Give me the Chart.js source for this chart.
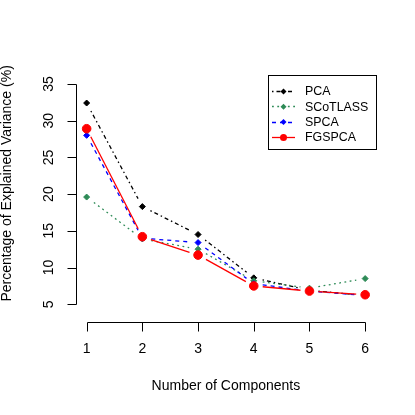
<!DOCTYPE html>
<html>
<head>
<meta charset="utf-8">
<script src="https://cdn.jsdelivr.net/npm/chart.js@4"></script>
<style>
  html, body { margin: 0; padding: 0; background: #fff; }
  canvas { display: block; }
</style>
</head>
<body>
<canvas id="chart" width="415" height="415"></canvas>
<script>
const components = [1, 2, 3, 4, 5, 6];
const seriesNames = ["PCA", "SCoTLASS", "SPCA", "FGSPCA"];
const pca = [32.4, 18.3, 14.5, 8.6, 6.9, 6.2];
const scotlass = [19.6, 13.9, 12.5, 8.2, 7.2, 8.5];
const spca = [28.0, 14.0, 13.4, 7.8, 6.8, 6.2];
const fgspca = [28.9, 14.2, 11.7, 7.5, 6.8, 6.3];
const yTicks = [5, 10, 15, 20, 25, 30, 35];
const xTicks = [1, 2, 3, 4, 5, 6];

const FONT = '"Liberation Sans", Arial, Helvetica, sans-serif';
const LWD = 1.3;

function pts(vals) {
    return components.map((c, i) => ({ x: c, y: vals[i] }));
}

// R style: lines with a gap around each point (type = "b")
const gapLines = {
    id: "gapLines",
    beforeDatasetsDraw(chart) {
        const ctx = chart.ctx;
        chart.data.datasets.forEach((ds, i) => {
            const meta = chart.getDatasetMeta(i);
            const gap = 9;
            ctx.save();
            ctx.strokeStyle = ds.borderColor;
            ctx.lineWidth = LWD;
            ctx.setLineDash(ds.lty);
            for (let j = 0; j < meta.data.length - 1; j++) {
                const a = meta.data[j], b = meta.data[j + 1];
                const dx = b.x - a.x, dy = b.y - a.y;
                const len = Math.sqrt(dx * dx + dy * dy);
                if (len <= gap * 2) continue;
                const ux = dx / len, uy = dy / len;
                ctx.beginPath();
                ctx.moveTo(a.x + ux * gap, a.y + uy * gap);
                ctx.lineTo(b.x - ux * gap, b.y - uy * gap);
                ctx.stroke();
            }
            ctx.restore();
        });
    }
};

const rAxes = {
    id: "rAxes",
    afterDraw(chart) {
        const ctx = chart.ctx;
        const xs = chart.scales.x, ys = chart.scales.y;
        const area = chart.chartArea;
        ctx.save();
        ctx.strokeStyle = "#000";
        ctx.fillStyle = "#000";
        ctx.lineWidth = 1;
        ctx.font = "14px " + FONT;

        // y axis
        const lx = Math.round(area.left) + 0.5;
        ctx.beginPath();
        ctx.moveTo(lx, Math.round(ys.getPixelForValue(yTicks[0])) + 0.5);
        ctx.lineTo(lx, Math.round(ys.getPixelForValue(yTicks[yTicks.length - 1])) + 0.5);
        yTicks.forEach(t => {
            const py = Math.round(ys.getPixelForValue(t)) + 0.5;
            ctx.moveTo(lx, py);
            ctx.lineTo(lx - 9, py);
        });
        ctx.stroke();
        yTicks.forEach(t => {
            const py = ys.getPixelForValue(t);
            ctx.save();
            ctx.translate(53, py);
            ctx.rotate(-Math.PI / 2);
            ctx.textAlign = "center";
            ctx.textBaseline = "alphabetic";
            ctx.fillText(String(t), 0, 0);
            ctx.restore();
        });

        // x axis
        const by = Math.round(area.bottom) + 0.5;
        ctx.beginPath();
        ctx.moveTo(Math.round(xs.getPixelForValue(xTicks[0])) + 0.5, by);
        ctx.lineTo(Math.round(xs.getPixelForValue(xTicks[xTicks.length - 1])) + 0.5, by);
        xTicks.forEach(t => {
            const px = Math.round(xs.getPixelForValue(t)) + 0.5;
            ctx.moveTo(px, by);
            ctx.lineTo(px, by + 9);
        });
        ctx.stroke();
        ctx.textAlign = "center";
        ctx.textBaseline = "middle";
        xTicks.forEach(t => {
            ctx.fillText(String(t), xs.getPixelForValue(t), 349);
        });

        // axis titles
        ctx.fillText("Number of Components", (area.left + area.right) / 2, 386);
        ctx.save();
        ctx.translate(11, (area.top + area.bottom) / 2);
        ctx.rotate(-Math.PI / 2);
        ctx.textBaseline = "alphabetic";
        ctx.fillText("Percentage of Explained Variance (%)", 0, 0);
        ctx.restore();

        // legend box
        ctx.strokeRect(268.5, 75.5, 108, 74);
        ctx.font = "12.4px " + FONT;
        ctx.textAlign = "left";
        ctx.textBaseline = "middle";
        chart.data.datasets.forEach((ds, i) => {
            const cy = 91 + i * 15.3;
            ctx.save();
            ctx.strokeStyle = ds.borderColor;
            ctx.lineWidth = LWD;
            ctx.setLineDash(ds.lty);
            ctx.beginPath();
            ctx.moveTo(272, Math.round(cy) + 0.5);
            ctx.lineTo(295, Math.round(cy) + 0.5);
            ctx.stroke();
            ctx.restore();
            ctx.save();
            ctx.fillStyle = ds.borderColor;
            ctx.beginPath();
            const r = ds.pointStyle === "circle" ? 3.5 : 3;
            if (ds.pointStyle === "circle") {
                ctx.arc(283.5, cy + 0.5, r, 0, Math.PI * 2);
            } else {
                ctx.moveTo(283.5 - r, cy + 0.5);
                ctx.lineTo(283.5, cy + 0.5 - r);
                ctx.lineTo(283.5 + r, cy + 0.5);
                ctx.lineTo(283.5, cy + 0.5 + r);
                ctx.closePath();
            }
            ctx.fill();
            ctx.restore();
            ctx.fillStyle = "#000";
            ctx.fillText(ds.label, 305, cy + 1);
        });
        ctx.restore();
    }
};

function makeSet(label, vals, color, lty, style, radius, order) {
    return {
        label: label,
        data: pts(vals),
        borderColor: color,
        backgroundColor: color,
        pointBackgroundColor: color,
        pointBorderColor: color,
        pointBorderWidth: 1,
        pointStyle: style,
        pointRadius: radius,
        showLine: false,
        lty: lty,
        order: order
    };
}

new Chart(document.getElementById("chart"), {
    type: "line",
    data: {
        datasets: [
            makeSet(seriesNames[0], pca, "#000000", [1.5, 3, 4, 3], "rectRot", 3, 3),
            makeSet(seriesNames[1], scotlass, "#2E8B57", [1.8, 3.5], "rectRot", 3, 2),
            makeSet(seriesNames[2], spca, "#0000FF", [4, 4], "rectRot", 3, 1),
            makeSet(seriesNames[3], fgspca, "#FF0000", [], "circle", 4.3, 0)
        ]
    },
    options: {
        responsive: false,
        animation: false,
        devicePixelRatio: 1,
        layout: { padding: { left: 75.5, right: 38.7, top: 45, bottom: 93.3 } },
        scales: {
            x: { type: "linear", min: 0.8, max: 6.2, display: false },
            y: { type: "linear", min: 2.63, max: 40.3, display: false }
        },
        plugins: {
            legend: { display: false },
            tooltip: { enabled: false }
        }
    },
    plugins: [gapLines, rAxes]
});
</script>
</body>
</html>
